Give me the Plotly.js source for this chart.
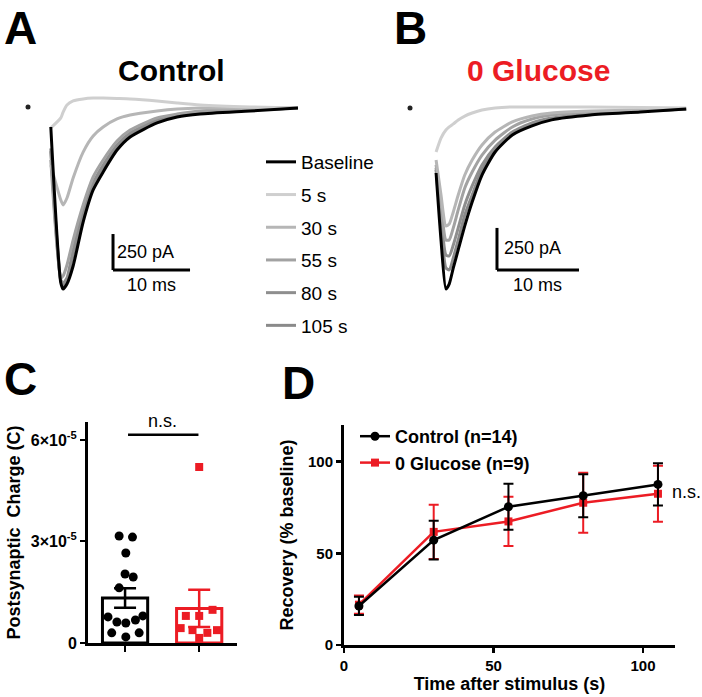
<!DOCTYPE html>
<html><head><meta charset="utf-8">
<script src="https://cdn.plot.ly/plotly-3.0.1.min.js"></script>
<style>html,body{margin:0;padding:0;background:#fff}#chart{width:702px;height:697px}</style>
</head><body><div id="chart"></div>
<script>
// ---------- DATA ----------
// Panel A (Control) traces: time (ms) and current (pA)
const tA = [4.0, 5.3, 5.6, 6.1, 6.9, 8.2, 9.5, 10.8, 12.6, 14.3, 17.8, 20.4, 23.4, 29.9, 36.1];
const baseA = [-132, -1215, -1257, -1222, -1097, -792, -569, -444, -292, -201, -104, -63, -42, -21, 0];
const s5A   = [-139, -69, -28, 21, 49, 63, 69, 69, 66, 63, 49, 35, 21, 7, 0];
const s30A  = [-396, -639, -674, -625, -486, -306, -194, -132, -76, -49, -21, -7, 0, 0, 0];
const s55A  = [-361, -1180, -1166, -1090, -917, -674, -479, -361, -229, -153, -69, -42, -21, -7, 0];
const s80A  = [-300, -1194, -1215, -1180, -986, -722, -521, -396, -257, -174, -83, -49, -28, -14, 0];
const s105A = [-280, -1201, -1236, -1194, -1020, -750, -545, -410, -270, -180, -90, -55, -32, -14, 0];
const artA = [1.04, 7];

// Panel B (0 Glucose) traces
const tB = [4.4, 5.0, 5.6, 6.0, 6.5, 7.1, 7.9, 8.8, 10.0, 11.6, 13.7, 16.1, 18.5, 23.2, 29.3, 34.9];
const baseB = [-381, -780, -1071, -1042, -946, -839, -696, -554, -393, -256, -155, -101, -65, -36, -18, 0];
const s5B   = [-256, -173, -125, -107, -89, -65, -42, -24, -6, 6, 12, 12, 12, 12, 9, 6];
const s30B  = [-304, -512, -696, -685, -613, -512, -393, -304, -214, -137, -77, -42, -24, -12, -6, 0];
const s55B  = [-333, -571, -780, -780, -708, -601, -470, -375, -274, -185, -107, -60, -36, -18, -12, 0];
const s80B  = [-351, -631, -869, -875, -810, -708, -571, -458, -333, -226, -137, -83, -54, -30, -12, 0];
const s105B = [-363, -690, -946, -958, -887, -780, -631, -512, -363, -244, -143, -89, -60, -30, -12, 0];
const artB = [1.22, 6];

const traceNames = ['Baseline', '5 s', '30 s', '55 s', '80 s', '105 s'];

// Panel C: postsynaptic charge (C)
const chargeGroups = ['Control', '0 Glucose'];
const chargeMean = [1.33e-5, 1.02e-5];
const chargeSem = [0.29e-5, 0.55e-5];
const ctrlCharge = [3.16e-5, 3.13e-5, 2.66e-5, 2.04e-5, 1.95e-5, 1.63e-5, 0.77e-5, 0.62e-5, 0.59e-5, 0.68e-5, 0.80e-5, 0.30e-5, 0.18e-5, 0.30e-5];
const ctrlJitter = [-0.08, 0.10, 0.01, 0.0, 0.11, -0.08, -0.23, -0.11, 0.01, 0.14, 0.24, -0.18, 0.01, 0.19];
const glucCharge = [5.20e-5, 0.80e-5, 0.80e-5, 0.98e-5, 0.44e-5, 0.38e-5, 0.30e-5, 0.38e-5, 0.15e-5];
const glucJitter = [0.0, -0.18, 0.0, 0.18, -0.25, -0.09, 0.11, 0.24, 0.0];

// Panel D: recovery (% baseline)
const recTime = [5, 30, 55, 80, 105];
const recCtrl = [21.3, 57.2, 75.4, 81.4, 87.6];
const recCtrlErr = [5.0, 10.6, 12.6, 11.7, 11.5];
const recGluc = [22.0, 61.7, 67.4, 77.6, 82.5];
const recGlucErr = [5.0, 14.8, 13.4, 16.4, 15.3];

// ---------- LAYOUT HELPERS ----------
const W = 702, H = 697;
const px = x => x / W;
const py = y => 1 - y / H;
const FONT = 'Arial, "Liberation Sans", sans-serif';
const RED = '#ec1c24';
const grays = ['#000000', '#cfcfcf', '#b6b6b6', '#a2a2a2', '#8e8e8e', '#8a8a8a'];

const traces = [];
const seriesA = [baseA, s5A, s30A, s55A, s80A, s105A];
const seriesB = [baseB, s5B, s30B, s55B, s80B, s105B];
const drawOrder = [5, 4, 3, 2, 1, 0];
drawOrder.forEach(i => {
  traces.push({
    type: 'scatter', mode: 'lines', x: tA, y: seriesA[i], xaxis: 'x', yaxis: 'y',
    name: traceNames[i], legend: 'legend2', legendgroup: 'g' + i, legendrank: i + 1,
    line: {color: grays[i], width: 3, shape: 'spline', smoothing: 0.6},
    hoverinfo: 'skip'
  });
});
drawOrder.forEach(i => {
  traces.push({
    type: 'scatter', mode: 'lines', x: tB, y: seriesB[i], xaxis: 'x2', yaxis: 'y2',
    showlegend: false,
    line: {color: grays[i], width: 3, shape: 'spline', smoothing: 0.6},
    hoverinfo: 'skip'
  });
});
traces.push({type: 'scatter', mode: 'markers', x: [artA[0]], y: [artA[1]], xaxis: 'x', yaxis: 'y', showlegend: false,
  marker: {color: '#222', size: 5}});
traces.push({type: 'scatter', mode: 'markers', x: [artB[0]], y: [artB[1]], xaxis: 'x2', yaxis: 'y2', showlegend: false,
  marker: {color: '#222', size: 5}});

// Panel C bars
const barColors = ['#000000', RED];
[0, 1].forEach(g => {
  traces.push({
    type: 'bar', x: [g + 1], y: [chargeMean[g]], xaxis: 'x3', yaxis: 'y3', width: 0.61,
    showlegend: false, name: chargeGroups[g],
    marker: {color: 'rgba(255,255,255,1)', line: {color: barColors[g], width: 3}},
    error_y: {type: 'data', array: [chargeSem[g]], color: barColors[g], thickness: 2.5, width: 11}
  });
});
traces.push({type: 'scatter', mode: 'markers', xaxis: 'x3', yaxis: 'y3', showlegend: false,
  x: ctrlJitter.map(j => 1 + j), y: ctrlCharge, cliponaxis: false,
  marker: {symbol: 'circle', color: '#000', size: 9}});
traces.push({type: 'scatter', mode: 'markers', xaxis: 'x3', yaxis: 'y3', showlegend: false,
  x: glucJitter.map(j => 2 + j), y: glucCharge, cliponaxis: false,
  marker: {symbol: 'square', color: RED, size: 8}});

// Panel D
traces.push({type: 'scatter', mode: 'lines+markers', x: recTime, y: recGluc, xaxis: 'x4', yaxis: 'y4',
  name: '0 Glucose (n=9)', legend: 'legend', legendrank: 2, cliponaxis: false,
  line: {color: RED, width: 2.5}, marker: {symbol: 'square', size: 8, color: RED},
  error_y: {type: 'data', array: recGlucErr, color: RED, thickness: 2, width: 5}});
traces.push({type: 'scatter', mode: 'lines+markers', x: recTime, y: recCtrl, xaxis: 'x4', yaxis: 'y4',
  name: 'Control (n=14)', legend: 'legend', legendrank: 1, cliponaxis: false,
  line: {color: '#000', width: 2.5}, marker: {symbol: 'circle', size: 9, color: '#000'},
  error_y: {type: 'data', array: recCtrlErr, color: '#000', thickness: 2, width: 5}});

// ---------- AXES ----------
const hidden = {visible: false, showgrid: false, zeroline: false, fixedrange: true};
const tickFontC = {family: FONT, size: 16, color: '#000', weight: 'bold'};
const tickFontD = {family: FONT, size: 15, color: '#000', weight: 'bold'};
const titleFont = {family: FONT, size: 18, weight: 'bold', color: '#000'};
const ann = (text, x, y, size, extra) => Object.assign({text: text, xref: 'paper', yref: 'paper', x: px(x), y: py(y),
  xanchor: 'center', yanchor: 'middle', showarrow: false, font: {size: size, family: FONT, color: '#000'}}, extra || {});

const layout = {
  width: W, height: H, margin: {l: 0, r: 0, t: 0, b: 0},
  paper_bgcolor: '#fff', plot_bgcolor: 'rgba(0,0,0,0)',
  font: {family: FONT, color: '#000'},
  barmode: 'overlay', showlegend: true, hovermode: false,
  xaxis: Object.assign({domain: [px(20), px(310)], range: [0, 37.66], anchor: 'y'}, hidden),
  yaxis: Object.assign({domain: [py(300), py(90)], range: [-1333, 125], anchor: 'x'}, hidden),
  xaxis2: Object.assign({domain: [px(400), px(690)], range: [0, 35.37], anchor: 'y2'}, hidden),
  yaxis2: Object.assign({domain: [py(300), py(90)], range: [-1137, 113], anchor: 'x2'}, hidden),
  xaxis3: {domain: [px(88), px(237)], range: [0.5, 2.51], anchor: 'y3', showgrid: false, zeroline: false,
    showline: true, linewidth: 3, linecolor: '#000', ticks: 'outside', ticklen: 6, tickwidth: 2.5, tickcolor: '#000',
    tickvals: [1, 2], showticklabels: false, fixedrange: true},
  yaxis3: {domain: [py(643), py(422)], range: [0, 6.53e-5], anchor: 'x3', showgrid: false, zeroline: false,
    showline: true, linewidth: 3, linecolor: '#000', ticks: 'outside', ticklen: 5, tickwidth: 2, tickcolor: '#000',
    tickvals: [0, 3e-5, 6e-5], ticktext: ['0', '3×10<sup>-5</sup>', '6×10<sup>-5</sup>'], tickfont: tickFontC,
    title: {text: 'Postsynaptic  Charge (C)', font: titleFont, standoff: 6},
    fixedrange: true},
  xaxis4: {domain: [px(344), px(675)], range: [0, 110.7], anchor: 'y4', showgrid: false, zeroline: false,
    showline: true, linewidth: 3, linecolor: '#000', ticks: 'outside', ticklen: 5, tickwidth: 2.5, tickcolor: '#000',
    tickvals: [0, 50, 100], tickfont: tickFontD,
    title: {text: 'Time after stimulus (s)', font: titleFont, standoff: 4},
    fixedrange: true},
  yaxis4: {domain: [py(645), py(425)], range: [0, 120], anchor: 'x4', showgrid: false, zeroline: false,
    showline: true, linewidth: 3, linecolor: '#000', ticks: 'outside', ticklen: 5, tickwidth: 2.5, tickcolor: '#000',
    tickvals: [0, 50, 100], tickfont: tickFontD,
    title: {text: 'Recovery (% baseline)', font: titleFont, standoff: 10},
    fixedrange: true},
  legend: {x: px(355), y: py(418), xanchor: 'left', yanchor: 'top', bgcolor: 'rgba(0,0,0,0)',
    font: {family: FONT, size: 18, weight: 'bold', color: '#000'}, traceorder: 'normal', itemwidth: 30,
    tracegroupgap: 0},
  legend2: {x: px(261), y: py(143), xanchor: 'left', yanchor: 'top', bgcolor: 'rgba(0,0,0,0)',
    font: {family: FONT, size: 19, color: '#000'}, tracegroupgap: 5, itemwidth: 30},
  shapes: [
    {type: 'line', xref: 'x', yref: 'y', x0: 12.08, x1: 12.08, y0: -875, y1: -1125, line: {color: '#000', width: 3}},
    {type: 'line', xref: 'x', yref: 'y', x0: 12.08, x1: 22.08, y0: -1125, y1: -1125, line: {color: '#000', width: 3}},
    {type: 'line', xref: 'x2', yref: 'y2', x0: 11.83, x1: 11.83, y0: -708, y1: -958, line: {color: '#000', width: 3}},
    {type: 'line', xref: 'x2', yref: 'y2', x0: 11.83, x1: 21.83, y0: -958, y1: -958, line: {color: '#000', width: 3}},
    {type: 'line', xref: 'x3', yref: 'y3', x0: 1.04, x1: 1.99, y0: 6.15e-5, y1: 6.15e-5, line: {color: '#000', width: 2.5}}
  ],
  annotations: [
    ann('<b>A</b>', 20, 0, 46, {yanchor: 'top'}),
    ann('<b>B</b>', 410, 0, 46, {yanchor: 'top'}),
    ann('<b>C</b>', 20, 379, 46),
    ann('<b>D</b>', 298, 383, 46),
    ann('<b>Control</b>', 171, 70, 30),
    ann('<b>0 Glucose</b>', 538, 70, 30, {font: {size: 30, family: FONT, color: RED}}),
    {text: '250 pA', xref: 'x', yref: 'y', x: 12.4, y: -1000, xanchor: 'left', yanchor: 'middle', showarrow: false, font: {size: 18, family: FONT}},
    {text: '10 ms', xref: 'x', yref: 'y', x: 17.08, y: -1229, xanchor: 'center', yanchor: 'middle', showarrow: false, font: {size: 18, family: FONT}},
    {text: '250 pA', xref: 'x2', yref: 'y2', x: 12.4, y: -827, xanchor: 'left', yanchor: 'middle', showarrow: false, font: {size: 18, family: FONT}},
    {text: '10 ms', xref: 'x2', yref: 'y2', x: 16.83, y: -1048, xanchor: 'center', yanchor: 'middle', showarrow: false, font: {size: 18, family: FONT}},
    {text: 'n.s.', xref: 'x3', yref: 'paper', x: 1.5, y: py(421), xanchor: 'center', yanchor: 'middle', showarrow: false, font: {size: 18, family: FONT}},
    {text: 'n.s.', xref: 'x4', yref: 'y4', x: 109, y: 83.5, xanchor: 'left', yanchor: 'middle', showarrow: false, font: {size: 18, family: FONT}}
  ]
};

Plotly.newPlot('chart', traces, layout, {staticPlot: true, displayModeBar: false});
</script></body></html>
